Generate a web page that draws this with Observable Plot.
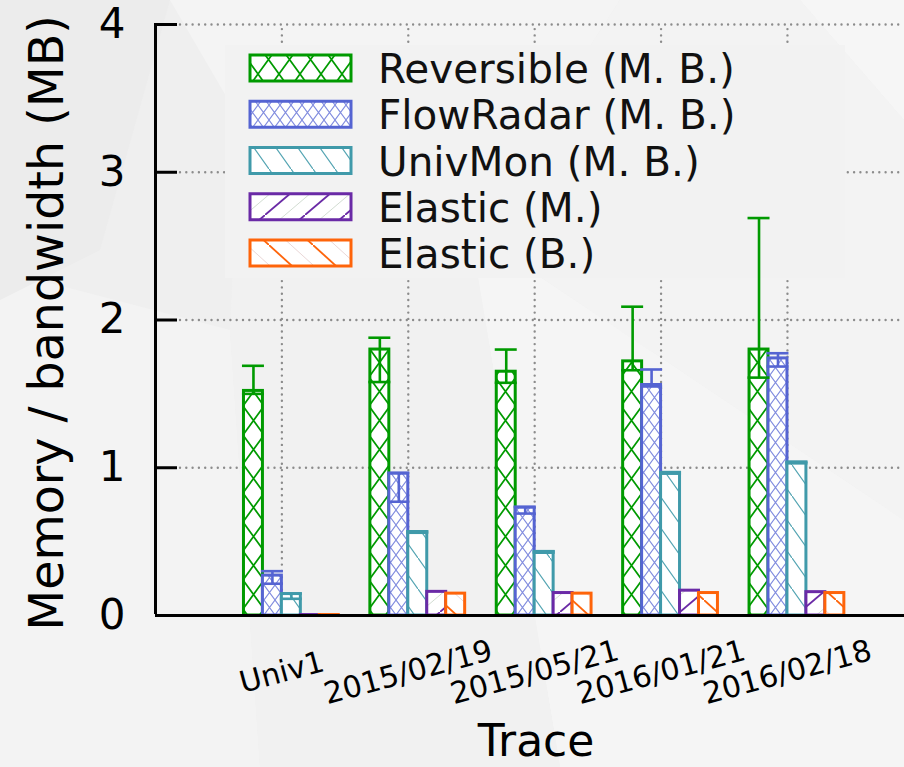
<!DOCTYPE html>
<html><head><meta charset="utf-8">
<script src="https://cdn.jsdelivr.net/npm/d3@7"></script>
<script src="https://cdn.jsdelivr.net/npm/@observablehq/plot@0.6"></script>
<style>
html,body{margin:0;padding:0;background:#eeeeee;}
#wrap{position:relative;width:904px;height:767px;overflow:hidden;font-family:"DejaVu Sans",sans-serif;}
#bg,#chart{position:absolute;left:0;top:0;}
</style></head><body>
<div id="wrap">
<svg id="bg" width="904" height="767">
  <rect width="904" height="767" fill="#efefef"/>
  <polygon points="170,0 620,0 470,230 240,120" fill="#f4f4f4"/>
  <polygon points="620,0 904,0 904,120 800,0" fill="#f6f6f6"/>
  <polygon points="0,270 230,330 260,767 0,767" fill="#f3f3f3"/>
  <polygon points="0,0 170,0 100,250 0,300" fill="#ececec"/>
  <polygon points="470,230 904,520 904,767 560,767" fill="#f5f5f5"/>
  <polygon points="240,120 470,230 560,767 260,767 230,330" fill="#f1f1f1"/>
  <polygon points="620,0 800,0 904,120 904,520 470,230" fill="#f3f3f3"/>
</svg>
<div id="chart"></div>
</div>
<svg width="0" height="0" style="position:absolute;left:0;top:0"><defs id="defs"></defs></svg>
<script>
// ---- data ----
const traces = ["Univ1", "2015/02/19", "2015/05/21", "2016/01/21", "2016/02/18"];
const series = ["Reversible (M. B.)", "FlowRadar (M. B.)", "UnivMon (M. B.)", "Elastic (M.)", "Elastic (B.)"];
const colors = ["#009a00", "#5564d2", "#409aaa", "#6a2aa6", "#fe640a"];

const reversible     = [1.52, 1.80, 1.65, 1.72, 1.80];
const reversibleLow  = [1.50, 1.58, 1.575, 1.66, 1.61];
const reversibleHigh = [1.69, 1.88, 1.80, 2.09, 2.69];

const flowRadar      = [0.27, 0.96, 0.73, 1.56, 1.74];
const flowRadarLow   = [0.215, 0.77, 0.69, 1.55, 1.685];
const flowRadarHigh  = [0.30, 0.965, 0.735, 1.665, 1.775];

const univMon        = [0.145, 0.565, 0.43, 0.965, 1.035];
const univMonLow     = [0.113, 0.56, 0.425, 0.96, 1.03];
const univMonHigh    = [0.148, 0.57, 0.435, 0.97, 1.04];

const elasticM       = [0.003, 0.16, 0.152, 0.168, 0.158];
const elasticB       = [0.003, 0.148, 0.148, 0.152, 0.152];

const yTicks = [0, 1, 2, 3, 4];
const yLabel = "Memory / bandwidth (MB)";
const xLabel = "Trace";

const values = [reversible, flowRadar, univMon, elasticM, elasticB];
const lows   = [reversibleLow, flowRadarLow, univMonLow, null, null];
const highs  = [reversibleHigh, flowRadarHigh, univMonHigh, null, null];

// ---- hatch patterns ----
const NS = "http://www.w3.org/2000/svg";
const defs = document.getElementById("defs");
function pattern(id, w, h, x, lines) {
  const p = document.createElementNS(NS, "pattern");
  p.setAttribute("id", id);
  p.setAttribute("patternUnits", "userSpaceOnUse");
  p.setAttribute("width", w); p.setAttribute("height", h);
  p.setAttribute("x", x);
  const r = document.createElementNS(NS, "rect");
  r.setAttribute("width", w); r.setAttribute("height", h); r.setAttribute("fill", "white");
  p.appendChild(r);
  for (const l of lines) {
    const path = document.createElementNS(NS, "path");
    path.setAttribute("d", l.d);
    path.setAttribute("stroke", l.c);
    path.setAttribute("stroke-width", l.w);
    path.setAttribute("stroke-opacity", l.o ?? 1);
    path.setAttribute("fill", "none");
    p.appendChild(path);
  }
  defs.appendChild(p);
}
pattern("hatch0", 21, 29, 12, [{d: "M0,0L21,29M21,0L0,29", c: colors[0], w: 1.7}]);
pattern("hatch1", 11, 15, 0, [{d: "M0,0L11,15M11,0L0,15", c: colors[1], w: 1.1, o: 0.75}]);
pattern("hatch2", 22, 31, 0, [{d: "M0,0L22,31M-11,-15.5L11,15.5M11,15.5L33,46.5", c: colors[2], w: 1.2, o: 0.9}]);
pattern("hatch3", 40, 34, 0, [
  {d: "M0,34L40,0", c: colors[3], w: 1.8},
  {d: "M-20,34L20,0M20,34L60,0", c: "#7a9a7a", w: 1, o: 0.35}]);
pattern("hatch4", 44, 40, 0, [
  {d: "M0,0L44,40", c: colors[4], w: 1.8},
  {d: "M-22,0L22,40M22,0L66,40", c: "#c08a8a", w: 1, o: 0.35}]);

// ---- table ----
const W = 0.15;
const rows = [];
series.forEach((s, j) => traces.forEach((t, i) => rows.push({
  trace: t, i, j, series: s, value: values[j][i],
  low: lows[j] ? lows[j][i] : null, high: highs[j] ? highs[j][i] : null
})));
const errRows = rows.filter(d => d.low != null);
const bx1 = d => d.i + (d.j - 2) * W;
const bx2 = d => d.i + (d.j - 1) * W;
const bxc = d => d.i + (d.j - 1.5) * W;

const xDomain = [-1, 4.926];
const dotted = {stroke: "#8c8c8c", strokeWidth: 2.4, strokeDasharray: "0,6.3", strokeLinecap: "round"};

const chart = Plot.plot({
  width: 904, height: 767,
  marginLeft: 155, marginRight: 0, marginTop: 24, marginBottom: 152,
  style: {background: "transparent", fontFamily: "DejaVu Sans", color: "black", overflow: "visible"},
  x: {type: "linear", domain: xDomain, axis: null},
  y: {domain: [0, 4], axis: null},
  color: {type: "identity"},
  marks: [
    Plot.ruleY(yTicks.filter(v => v > 0), {y: d => d, ...dotted, insetLeft: 25}),
    Plot.ruleX(traces.map((t, i) => i), {x: d => d, y1: 0, y2: 4, ...dotted}),
    Plot.rectY(rows, {x1: bx1, x2: bx2, y1: 0, y2: "value",
      fill: d => `url(#hatch${d.j})`, stroke: d => colors[d.j], strokeWidth: 3}),
    Plot.ruleX(errRows, {x: bxc, y1: "low", y2: "high", stroke: d => colors[d.j], strokeWidth: 2.6}),
    Plot.ruleY(errRows, {y: "low", x1: d => bx1(d) - 0.012, x2: d => bx2(d) + 0.012, stroke: d => colors[d.j], strokeWidth: 2.6}),
    Plot.ruleY(errRows, {y: "high", x1: d => bx1(d) - 0.012, x2: d => bx2(d) + 0.012, stroke: d => colors[d.j], strokeWidth: 2.6}),
    Plot.ruleY([0], {y: d => d, stroke: "black", strokeWidth: 3}),
    Plot.ruleX([xDomain[0]], {x: d => d, y1: 0, y2: 4, stroke: "black", strokeWidth: 3, dy: -1}),
    Plot.tickY(yTicks, {y: d => d, stroke: "black", strokeWidth: 3, insetRight: 749 - 22}),
    Plot.axisY(yTicks, {tickSize: 0, tickPadding: 30, fontSize: 42, label: null, tickFormat: d => String(d)}),
    Plot.text([yLabel], {text: d => d, frameAnchor: "left", textAnchor: "middle", lineAnchor: "middle",
      rotate: -90, dx: -108, dy: 3, fontSize: 47.5, fill: "black"}),
    Plot.text(traces, {x: (d, i) => i, text: d => d, frameAnchor: "bottom", textAnchor: "middle", lineAnchor: "middle",
      dy: 57, rotate: -15, fontSize: 30, fill: "black"}),
    Plot.text([xLabel], {text: d => d, frameAnchor: "bottom", textAnchor: "middle", lineAnchor: "middle",
      dy: 126, dx: 6, fontSize: 44, fill: "black"})
  ]
});
document.getElementById("chart").appendChild(chart);

// ---- legend (drawn over the grid, under the bars) ----
const groups = chart.querySelectorAll(":scope > g");
const legNode = document.createElementNS(NS, "g");
chart.insertBefore(legNode, groups[2]);
const leg = d3.select(legNode).attr("transform", "translate(225,45)");
leg.append("rect").attr("width", 620).attr("height", 233).attr("fill", "#f2f2f2");
series.forEach((s, k) => {
  leg.append("rect").attr("x", 25).attr("y", 10 + 46.25 * k).attr("width", 101).attr("height", 26)
    .attr("fill", `url(#hatch${k})`).attr("stroke", colors[k]).attr("stroke-width", 3);
  leg.append("text").attr("x", 153).attr("y", 38 + 46.25 * k).attr("text-anchor", "start")
    .attr("font-family", "DejaVu Sans").attr("font-size", 40.5).attr("fill", "#111").text(s);
});
</script>
</body></html>
